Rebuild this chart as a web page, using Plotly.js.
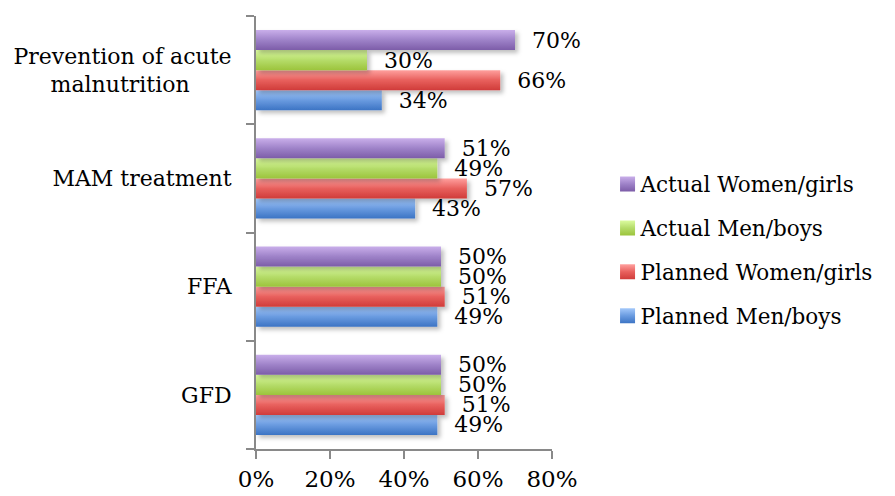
<!DOCTYPE html>
<html>
<head>
<meta charset="utf-8">
<script src="https://cdn.plot.ly/plotly-3.0.1.min.js"></script>
<style>
html,body{margin:0;padding:0;background:#fff;}
#chart{width:895px;height:496px;}
</style>
</head>
<body>
<div id="chart"></div>
<script>
// Categories listed bottom to top
var categories = ["GFD", "FFA", "MAM treatment", "Prevention of acute<br>malnutrition\u00a0\u00a0\u00a0\u00a0\u00a0\u00a0"];
var seriesNames = ["Planned Men/boys", "Planned Women/girls", "Actual Men/boys", "Actual Women/girls"];
var plannedMen   = [0.49, 0.49, 0.43, 0.34];
var plannedWomen = [0.51, 0.51, 0.57, 0.66];
var actualMen    = [0.50, 0.50, 0.49, 0.30];
var actualWomen  = [0.50, 0.50, 0.51, 0.70];
var xTickVals = [0, 0.2, 0.4, 0.6, 0.8];
var xTickText = ["0%", "20%", "40%", "60%", "80%"];

var baseColors = ["#6a9be0", "#e8605d", "#b5dc6a", "#9e82c8"];
var gradStops = [
  ["#a3c8fa", "#3c74c4"],
  ["#ffa09e", "#d03c3a"],
  ["#dcfca0", "#9cc43c"],
  ["#c9aeea", "#7c5ca8"]
];
var seriesValues = [plannedMen, plannedWomen, actualMen, actualWomen];
var FONT = "DejaVu Serif, serif";

var traces = seriesValues.map(function (vals, i) {
  return {
    type: "bar",
    orientation: "h",
    name: seriesNames[i],
    y: categories,
    x: vals,
    legendgroup: "g" + i,
    legendrank: 4 - i,
    marker: {color: baseColors[i], line: {width: 0}},
    text: vals.map(function (v) { return "\u00a0\u00a0" + Math.round(v * 100) + "%"; }),
    textposition: "outside",
    constraintext: "none",
    cliponaxis: false,
    textfont: {family: FONT, size: 22, color: "#000"}
  };
});

var layout = {
  width: 895, height: 496,
  margin: {l: 256, r: 343, t: 16, b: 47, autoexpand: false},
  paper_bgcolor: "#fff", plot_bgcolor: "#fff",
  barmode: "group",
  bargap: 0.26, bargroupgap: 0,
  font: {family: FONT, size: 22, color: "#000"},
  showlegend: true,
  legend: {
    xref: "container", yref: "container",
    x: 0.671, xanchor: "left", y: 0.496, yanchor: "middle",
    traceorder: "grouped",
    tracegroupgap: 13,
    font: {family: FONT, size: 21.5, color: "#000"},
    itemwidth: 30
  },
  xaxis: {
    range: [0, 0.8],
    tickvals: xTickVals, ticktext: xTickText,
    showgrid: false, zeroline: false,
    showline: true, linecolor: "#898989", linewidth: 2,
    ticks: "outside", ticklen: 8, tickwidth: 2, tickcolor: "#898989",
    tickfont: {family: FONT, size: 23, color: "#000"},
    fixedrange: true
  },
  yaxis: {
    type: "category",
    showgrid: false, zeroline: false,
    showline: true, linecolor: "#898989", linewidth: 2,
    ticks: "outside", tickson: "boundaries", ticklen: 8, tickwidth: 2, tickcolor: "#898989",
    ticklabelstandoff: 18,
    tickfont: {family: FONT, size: 22, color: "#000"},
    fixedrange: true
  }
};

function hexToRgb(h) {
  var n = parseInt(h.slice(1), 16);
  return "rgb(" + ((n >> 16) & 255) + ", " + ((n >> 8) & 255) + ", " + (n & 255) + ")";
}

Plotly.newPlot("chart", traces, layout, {staticPlot: true, displayModeBar: false}).then(function (gd) {
  var svgNS = "http://www.w3.org/2000/svg";
  var svg = gd.querySelector("svg.main-svg");
  var defs = svg.querySelector("defs") || svg.insertBefore(document.createElementNS(svgNS, "defs"), svg.firstChild);
  var map = {};
  baseColors.forEach(function (c, i) {
    var g = document.createElementNS(svgNS, "linearGradient");
    g.setAttribute("id", "grad" + i);
    g.setAttribute("x1", "0"); g.setAttribute("y1", "0");
    g.setAttribute("x2", "0"); g.setAttribute("y2", "1");
    [[0, gradStops[i][0]], [0.5, c], [1, gradStops[i][1]]].forEach(function (s) {
      var st = document.createElementNS(svgNS, "stop");
      st.setAttribute("offset", s[0]);
      st.setAttribute("stop-color", s[1]);
      g.appendChild(st);
    });
    defs.appendChild(g);
    map[hexToRgb(c)] = "url(#grad" + i + ")";
  });
  var f = document.createElementNS(svgNS, "filter");
  f.setAttribute("id", "shadow");
  f.setAttribute("x", "-10%"); f.setAttribute("y", "-30%");
  f.setAttribute("width", "130%"); f.setAttribute("height", "180%");
  var ds = document.createElementNS(svgNS, "feDropShadow");
  ds.setAttribute("dx", "3"); ds.setAttribute("dy", "3");
  ds.setAttribute("stdDeviation", "2");
  ds.setAttribute("flood-color", "#000");
  ds.setAttribute("flood-opacity", "0.25");
  f.appendChild(ds);
  defs.appendChild(f);

  gd.querySelectorAll(".barlayer .point path").forEach(function (p) {
    var fill = p.style.fill;
    if (map[fill]) {
      p.style.fill = map[fill];
      p.setAttribute("filter", "url(#shadow)");
    }
  });
  gd.querySelectorAll(".legend .legendpoints").forEach(function (lp) {
    lp.setAttribute("transform", "translate(7,0)");
    lp.querySelectorAll("path").forEach(function (p) {
      var fill = p.style.fill;
      if (map[fill]) {
        p.style.fill = map[fill];
        p.setAttribute("d", "M7.5,7.5H-7.5V-7.5H7.5Z");
      }
    });
  });
});
</script>
</body>
</html>
